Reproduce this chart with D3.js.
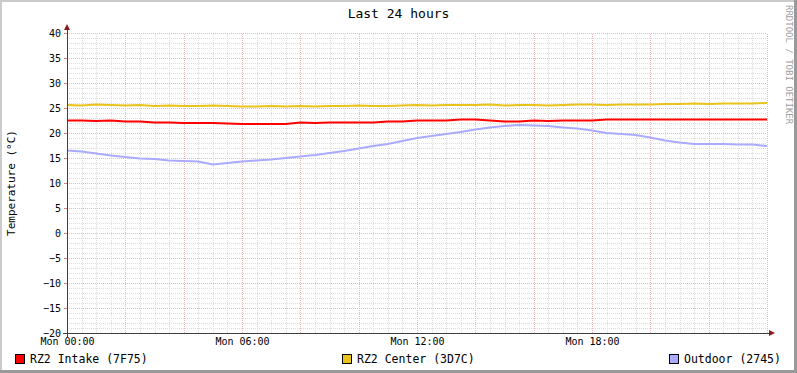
<!DOCTYPE html>
<html>
<head>
<meta charset="utf-8">
<script src="https://cdn.jsdelivr.net/npm/d3@7"></script>
<style>
  body { margin: 0; background: #fff; }
  text { font-family: "DejaVu Sans Mono", monospace; fill: #000; }
</style>
</head>
<body>
<div id="chart"></div>
<script>
// chart texts
const title = 'Last 24 hours';
const yLabel = 'Temperature (°C)';
const watermark = 'RRDTOOL / TOBI OETIKER';

// series
const seriesNames = ['RZ2 Intake (7F75)', 'RZ2 Center (3D7C)', 'Outdoor (2745)'];
const seriesColors = ['#ff0000', '#eac31a', '#aaaaff'];

// samples every half hour, starting Mon 00:00
const hours = d3.range(0, 24.01, 0.5);
const intake = [22.5, 22.5, 22.4, 22.5, 22.3, 22.3, 22.1, 22.1, 22.0, 22.0,
  22.0, 21.9, 21.8, 21.8, 21.8, 21.8, 22.1, 22.0, 22.1, 22.1,
  22.1, 22.1, 22.3, 22.3, 22.5, 22.5, 22.5, 22.7, 22.7, 22.5,
  22.3, 22.3, 22.5, 22.4, 22.5, 22.5, 22.5, 22.7, 22.7, 22.7,
  22.7, 22.7, 22.7, 22.7, 22.7, 22.7, 22.7, 22.7, 22.7];
const center = [25.6, 25.5, 25.7, 25.6, 25.5, 25.6, 25.4, 25.5, 25.4, 25.4,
  25.5, 25.4, 25.3, 25.3, 25.4, 25.3, 25.4, 25.3, 25.4, 25.4,
  25.5, 25.4, 25.4, 25.5, 25.6, 25.5, 25.6, 25.6, 25.6, 25.7,
  25.5, 25.6, 25.6, 25.5, 25.6, 25.7, 25.7, 25.6, 25.7, 25.7,
  25.7, 25.8, 25.8, 25.9, 25.8, 25.9, 25.9, 25.9, 26.0];
const outdoor = [16.5, 16.3, 15.9, 15.5, 15.2, 14.9, 14.8, 14.5, 14.4, 14.3,
  13.7, 14.0, 14.3, 14.5, 14.7, 15.0, 15.3, 15.6, 16.0, 16.4,
  16.9, 17.4, 17.8, 18.4, 19.0, 19.4, 19.8, 20.2, 20.7, 21.1,
  21.4, 21.6, 21.5, 21.4, 21.1, 20.9, 20.5, 20.0, 19.8, 19.6,
  19.1, 18.5, 18.1, 17.8, 17.8, 17.8, 17.7, 17.7, 17.4];

// axes
const yTicks = [-20, -15, -10, -5, 0, 5, 10, 15, 20, 25, 30, 35, 40];
const xTickHours = [0, 6, 12, 18];

const W = 797, H = 373;
const margin = {top: 33, right: 30, bottom: 40, left: 67};
const width = W - margin.left - margin.right;
const height = H - margin.top - margin.bottom;

const t0 = new Date(2024, 0, 1, 0, 0); // a Monday
const toDate = h => new Date(t0.getTime() + h * 3600e3);

const svg = d3.select('#chart').append('svg')
  .attr('width', W).attr('height', H);

// canvas shading border
svg.append('rect').attr('width', W).attr('height', H).attr('fill', '#999999');
svg.append('rect').attr('width', W - 3).attr('height', H - 3).attr('fill', '#cbcbcb');
svg.append('rect').attr('x', 2).attr('y', 2).attr('width', W - 5).attr('height', H - 5).attr('fill', '#ffffff');

const xScale = d3.scaleTime()
  .domain([toDate(0), toDate(24)])
  .range([margin.left, margin.left + width]);
const yScale = d3.scaleLinear()
  .domain([-20, 40])
  .range([margin.top + height, margin.top]);

// grid
const grid = svg.append('g').attr('shape-rendering', 'crispEdges');
const minorX = d3.range(0, 24.01, 0.5).filter(h => h % 2 !== 0).map(toDate);
const majorX = d3.range(0, 24.01, 2).map(toDate);
const minorY = d3.range(-20, 40.01, 1).filter(v => v % 5 !== 0);

grid.append('g')
  .attr('transform', `translate(0,${margin.top + height})`)
  .call(d3.axisBottom(xScale).tickValues(minorX).tickSize(-height).tickFormat(''))
  .call(g => g.select('.domain').remove())
  .selectAll('line').attr('stroke', '#dcdcdc').attr('stroke-dasharray', '1,1');
grid.append('g')
  .attr('transform', `translate(${margin.left},0)`)
  .call(d3.axisLeft(yScale).tickValues(minorY).tickSize(-width).tickFormat(''))
  .call(g => g.select('.domain').remove())
  .selectAll('line').attr('stroke', '#dcdcdc').attr('stroke-dasharray', '1,1');
grid.append('g')
  .attr('transform', `translate(0,${margin.top + height})`)
  .call(d3.axisBottom(xScale).tickValues(majorX).tickSize(-height).tickFormat(''))
  .call(g => g.select('.domain').remove())
  .selectAll('line').attr('stroke', '#efb4b4').attr('stroke-dasharray', '1,1');
grid.append('g')
  .attr('transform', `translate(${margin.left},0)`)
  .call(d3.axisLeft(yScale).tickValues(yTicks).tickSize(-width).tickFormat(''))
  .call(g => g.select('.domain').remove())
  .selectAll('line').attr('stroke', '#efb4b4').attr('stroke-dasharray', '1,1');

// data lines
const line = d3.line()
  .x((d, i) => xScale(toDate(hours[i])))
  .y(d => yScale(d));
[intake, center, outdoor].forEach((s, i) => {
  svg.append('path')
    .datum(s)
    .attr('fill', 'none')
    .attr('stroke', seriesColors[i])
    .attr('stroke-width', 2)
    .attr('d', line);
});

// axis labels
const yAxisG = svg.append('g')
  .attr('transform', `translate(${margin.left},0)`)
  .call(d3.axisLeft(yScale).tickValues(yTicks).tickSize(3).tickPadding(3));
yAxisG.select('.domain').remove();
yAxisG.selectAll('line').attr('stroke', '#e08080');
yAxisG.selectAll('text').attr('font-size', 10).attr('font-family', 'DejaVu Sans Mono');

const xAxisG = svg.append('g')
  .attr('transform', `translate(0,${margin.top + height})`)
  .call(d3.axisBottom(xScale).tickValues(xTickHours.map(toDate))
    .tickFormat(d3.timeFormat('%a %H:%M')).tickSize(0).tickPadding(5));
xAxisG.select('.domain').remove();
xAxisG.selectAll('text').attr('font-size', 10).attr('font-family', 'DejaVu Sans Mono');

// axis lines with arrows
const axisColor = '#404040', arrowColor = '#8b1a1a';
const x0 = margin.left, yb = margin.top + height, xr = margin.left + width;
svg.append('line').attr('x1', x0).attr('x2', x0)
  .attr('y1', yb + 4).attr('y2', margin.top - 5)
  .attr('stroke', axisColor).attr('stroke-width', 1).attr('shape-rendering', 'crispEdges');
svg.append('line').attr('x1', x0 - 4).attr('x2', xr + 4)
  .attr('y1', yb).attr('y2', yb)
  .attr('stroke', axisColor).attr('stroke-width', 1).attr('shape-rendering', 'crispEdges');
svg.append('path')
  .attr('d', `M${x0 - 3},${margin.top - 3}L${x0 + 3},${margin.top - 3}L${x0},${margin.top - 9}Z`)
  .attr('fill', arrowColor);
svg.append('path')
  .attr('d', `M${xr + 2},${yb - 3}L${xr + 2},${yb + 3}L${xr + 8},${yb}Z`)
  .attr('fill', arrowColor);

// title
svg.append('text')
  .attr('x', W / 2).attr('y', 18)
  .attr('text-anchor', 'middle')
  .attr('font-size', 13)
  .text(title);

// y label
svg.append('text')
  .attr('transform', `translate(15,${margin.top + height / 2}) rotate(-90)`)
  .attr('text-anchor', 'middle')
  .attr('font-size', 11)
  .text(yLabel);

// watermark
svg.append('text')
  .attr('transform', 'translate(786,5) rotate(90)')
  .attr('font-size', 9)
  .style('fill', '#a0a0a0')
  .text(watermark);

// legend
const legendX = [15, 342, 669];
const legend = svg.append('g');
seriesNames.forEach((name, i) => {
  legend.append('rect')
    .attr('x', legendX[i] + 0.5).attr('y', 354.5)
    .attr('width', 9).attr('height', 9)
    .attr('fill', seriesColors[i])
    .attr('stroke', '#000').attr('stroke-width', 1);
  legend.append('text')
    .attr('x', legendX[i] + 15).attr('y', 363)
    .attr('font-size', 11.5)
    .text(name);
});
</script>
</body>
</html>
